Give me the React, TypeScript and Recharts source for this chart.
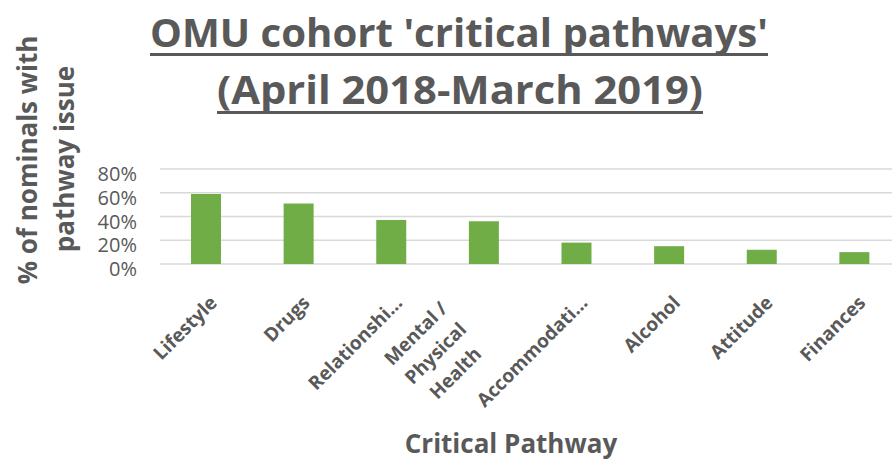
import React from "react";
import { BarChart, Bar, XAxis, YAxis, CartesianGrid } from "recharts";

const categories = [
  "Lifestyle",
  "Drugs",
  "Relationships",
  "Mental / Physical Health",
  "Accommodation",
  "Alcohol",
  "Attitude",
  "Finances",
];
const tickLabels = [
  ["Lifestyle"],
  ["Drugs"],
  ["Relationshi…"],
  ["Mental /", "Physical", "Health"],
  ["Accommodati…"],
  ["Alcohol"],
  ["Attitude"],
  ["Finances"],
];
const values = [0.59, 0.51, 0.37, 0.36, 0.18, 0.15, 0.12, 0.1];
const yTicks = [0, 0.2, 0.4, 0.6, 0.8];

const titleLines = ["OMU cohort 'critical pathways'", "(April 2018-March 2019)"];
const yTitleLines = ["% of nominals with", "pathway issue"];
const xTitle = "Critical Pathway";

const data = categories.map((name, i) => ({ name, value: values[i] }));

const FONT = '"Open Sans", sans-serif';
const GREY = "#595959";
const AXIS_Y = 264;

const renderXTick = (props: any) => {
  const { x, index } = props;
  const lines = tickLabels[index] || [String(props.payload?.value ?? "")];
  if (lines.length === 1) {
    const px = x + 12;
    const py = AXIS_Y + 40;
    return (
      <text
        x={px}
        y={py}
        transform={`rotate(-45 ${px} ${py})`}
        textAnchor="end"
        fontSize={19}
        fontWeight={700}
        fill={GREY}
        fontFamily={FONT}
      >
        {lines[0]}
      </text>
    );
  }
  const px = x - 44;
  const py = AXIS_Y + 94;
  const mid = (lines.length - 1) / 2;
  return (
    <text
      x={px}
      y={py}
      transform={`rotate(-45 ${px} ${py})`}
      textAnchor="middle"
      fontSize={19}
      fontWeight={700}
      fill={GREY}
      fontFamily={FONT}
    >
      {lines.map((l, i) => (
        <tspan key={i} x={px} y={py + (i - mid) * 28}>
          {l}
        </tspan>
      ))}
    </text>
  );
};

const renderYTick = (props: any) => {
  const { y, payload } = props;
  return (
    <text
      x={137}
      y={y + 12}
      textAnchor="end"
      fontSize={20}
      fill={GREY}
      fontFamily={FONT}
    >
      {Math.round(payload.value * 100)}%
    </text>
  );
};

export default function App() {
  return (
    <div
      style={{
        position: "absolute",
        left: 0,
        top: 0,
        width: 892,
        height: 463,
        overflow: "hidden",
        background: "#fff",
        fontFamily: FONT,
      }}
    >
      <BarChart
        width={905}
        height={463}
        data={data}
        margin={{ top: 169, right: 4, bottom: 0, left: 0 }}
      >
        <CartesianGrid vertical={false} stroke="#D9D9D9" strokeWidth={1.5} />
        <XAxis
          dataKey="name"
          axisLine={false}
          tickLine={false}
          height={199}
          interval={0}
          tick={renderXTick}
        />
        <YAxis
          width={160}
          domain={[0, 0.8]}
          ticks={yTicks}
          axisLine={false}
          tickLine={false}
          tick={renderYTick}
        />
        <Bar dataKey="value" fill="#70AD47" barSize={30} isAnimationActive={false} />
      </BarChart>
      <svg
        width={892}
        height={463}
        style={{ position: "absolute", left: 0, top: 0, pointerEvents: "none" }}
      >
        <g fill={GREY} fontFamily={FONT} fontWeight={700}>
          <text x={459} y={47} textAnchor="middle" fontSize={40} textLength={618} lengthAdjust="spacingAndGlyphs">
            {titleLines[0]}
          </text>
          <rect x={150} y={53} width={618} height={3} />
          <text x={460} y={104} textAnchor="middle" fontSize={40} textLength={486} lengthAdjust="spacingAndGlyphs">
            {titleLines[1]}
          </text>
          <rect x={217} y={111} width={486} height={3} />
          <text transform="rotate(-90)" textAnchor="middle" fontSize={26}>
            <tspan x={-160} y={37}>{yTitleLines[0]}</tspan>
            <tspan x={-159} y={74}>{yTitleLines[1]}</tspan>
          </text>
          <text x={511} y={453} textAnchor="middle" fontSize={26}>
            {xTitle}
          </text>
        </g>
      </svg>
    </div>
  );
}
